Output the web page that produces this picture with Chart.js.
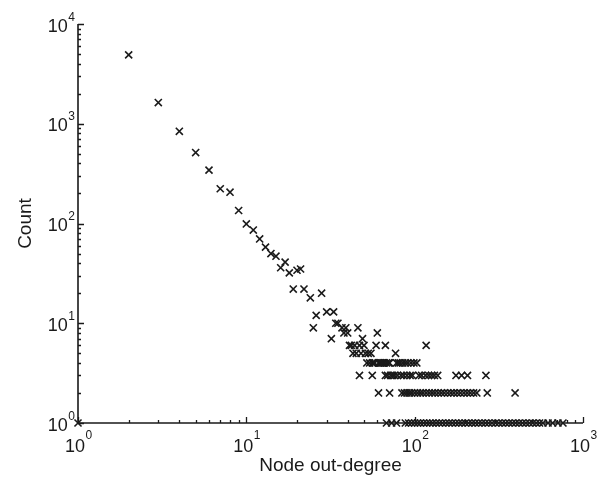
<!DOCTYPE html>
<html>
<head>
<meta charset="utf-8">
<script src="https://cdn.jsdelivr.net/npm/chart.js@4/dist/chart.umd.min.js"></script>
<style>
html,body{margin:0;padding:0;background:#fff;}
#wrap{width:601px;height:478px;position:relative;}
canvas{display:block;}
</style>
</head>
<body>
<div id="wrap"><canvas id="c" width="601" height="478"></canvas></div>
<script>
// ---- axis / label data ----
const xDecades = [1, 10, 100, 1000];
const xTickExponents = ['0', '1', '2', '3'];
const yDecades = [1, 10, 100, 1000, 10000];
const yTickExponents = ['0', '1', '2', '3', '4'];
const xTitle = 'Node out-degree';
const yTitle = 'Count';

// ---- series: degree -> count (counts of 5 and above) ----
const headDegree = [1, 2, 3, 4, 5, 6, 7, 8, 9, 10, 11, 12, 13, 14, 15, 16, 17, 18, 19, 20,
  21, 22, 24, 25, 26, 28, 30, 32, 33, 34, 35, 37, 38, 39, 40, 41, 42, 43, 44, 45,
  46, 47, 48, 49, 50, 51, 53, 55, 59, 60, 67, 77, 117];
const headCount = [1, 4900, 1630, 840, 514, 343, 223, 206, 135, 99, 86, 70, 58, 50, 47, 36, 41, 32, 22, 34,
  35, 22, 18, 9, 12, 20, 13, 7, 13, 10, 10, 9, 8, 9, 8, 6, 6, 5, 6, 5,
  9, 6, 5, 7, 6, 5, 5, 5, 6, 8, 6, 5, 6];

// ---- series: degrees having small counts ----
const degreesWithCount4 = [52, 54, 56, 57, 58, 61, 62, 63, 64, 65, 66, 68, 70, 71, 78, 80, 82, 85, 88, 91, 95, 99, 103];
const degreesWithCount3 = [47, 56, 67, 69, 72, 74, 76, 79, 83, 86, 90, 94, 97, 106, 110, 116, 121, 126, 131, 137, 176, 190, 206, 265];
const degreesWithCount2 = [61, 71, 84, 87, 90, 93, 96, 100, 104, 108, 112, 117, 122, 127, 132, 138, 144, 150, 157, 164,
  171, 179, 187, 196, 205, 214, 224, 234, 270, 395];
const degreesWithCount1 = [68, 73, 78, 88, 92, 96, 100, 104, 108, 113, 118, 123, 128, 134, 140, 146, 153, 160, 167, 175,
  183, 191, 200, 209, 219, 229, 240, 251, 263, 275, 288, 302, 316, 331, 347, 363, 380, 398, 417, 437,
  458, 480, 503, 527, 552, 578, 620, 660, 710, 760];

// ---- build the point table ----
const points = [];
headDegree.forEach((d, i) => points.push({x: d, y: headCount[i]}));
degreesWithCount4.forEach(d => points.push({x: d, y: 4}));
degreesWithCount3.forEach(d => points.push({x: d, y: 3}));
degreesWithCount2.forEach(d => points.push({x: d, y: 2}));
degreesWithCount1.forEach(d => points.push({x: d, y: 1}));

const INK = '#1a1a1a';
const FONT = '"Liberation Sans", Arial, Helvetica, sans-serif';

const axesPlugin = {
  id: 'matlabAxes',
  beforeDatasetsDraw(chart) {
    const {ctx, chartArea: a, scales: {x, y}} = chart;
    ctx.save();
    ctx.strokeStyle = INK;
    ctx.lineWidth = 1.6;
    ctx.beginPath();
    ctx.moveTo(a.left, a.top);
    ctx.lineTo(a.left, a.bottom);
    ctx.lineTo(a.right, a.bottom);
    ctx.stroke();

    ctx.lineWidth = 1.3;
    ctx.beginPath();
    // x ticks (inward = upward)
    xDecades.forEach((v, i) => {
      const px = Math.round(x.getPixelForValue(v)) + 0.5;
      ctx.moveTo(px, a.bottom); ctx.lineTo(px, a.bottom - 6);
      if (i < xDecades.length - 1) {
        for (let m = 2; m <= 9; m++) {
          const q = Math.round(x.getPixelForValue(v * m)) + 0.5;
          ctx.moveTo(q, a.bottom); ctx.lineTo(q, a.bottom - 3);
        }
      }
    });
    // y ticks (inward = rightward)
    yDecades.forEach((v, i) => {
      const py = Math.round(y.getPixelForValue(v)) + 0.5;
      ctx.moveTo(a.left, py); ctx.lineTo(a.left + 6, py);
      if (i < yDecades.length - 1) {
        for (let m = 2; m <= 9; m++) {
          const q = Math.round(y.getPixelForValue(v * m)) + 0.5;
          ctx.moveTo(a.left, q); ctx.lineTo(a.left + 3, q);
        }
      }
    });
    ctx.stroke();

    // tick labels
    ctx.fillStyle = INK;
    ctx.textBaseline = 'alphabetic';
    const baseFont = '18px ' + FONT;
    const expFont = '12px ' + FONT;
    xDecades.forEach((v, i) => {
      const px = x.getPixelForValue(v) - 3;
      ctx.font = baseFont;
      const wb = ctx.measureText('10').width;
      ctx.textAlign = 'center';
      ctx.fillText('10', px, 452);
      ctx.font = expFont;
      ctx.textAlign = 'left';
      ctx.fillText(xTickExponents[i], px + wb / 2 + 0.5, 439);
    });
    yDecades.forEach((v, i) => {
      const py = y.getPixelForValue(v);
      ctx.font = expFont;
      const we = ctx.measureText(yTickExponents[i]).width;
      ctx.textAlign = 'right';
      ctx.fillText(yTickExponents[i], a.left - 3, py - 3.5);
      ctx.font = baseFont;
      ctx.fillText('10', a.left - 3 - we - 0.5, py + 7.5);
    });

    // axis titles
    ctx.font = '19px ' + FONT;
    ctx.textAlign = 'center';
    ctx.textBaseline = 'middle';
    ctx.fillText(xTitle, (a.left + a.right) / 2, 466);
    ctx.save();
    ctx.translate(26, (a.top + a.bottom) / 2);
    ctx.rotate(-Math.PI / 2);
    ctx.fillText(yTitle, 0, 0);
    ctx.restore();
    ctx.restore();
  }
};

new Chart(document.getElementById('c'), {
  type: 'scatter',
  data: {
    datasets: [{
      data: points,
      pointStyle: 'crossRot',
      pointRadius: 5,
      pointHoverRadius: 5,
      borderColor: INK,
      backgroundColor: 'rgba(0,0,0,0)',
      borderWidth: 1.6,
      clip: false
    }]
  },
  options: {
    responsive: false,
    devicePixelRatio: 1,
    animation: false,
    events: [],
    layout: {padding: {left: 78, right: 18, top: 24, bottom: 55}},
    plugins: {legend: {display: false}, tooltip: {enabled: false}, title: {display: false}},
    scales: {
      x: {type: 'logarithmic', min: 1, max: 1000, display: false},
      y: {type: 'logarithmic', min: 1, max: 10000, display: false}
    }
  },
  plugins: [axesPlugin]
});
</script>
</body>
</html>
